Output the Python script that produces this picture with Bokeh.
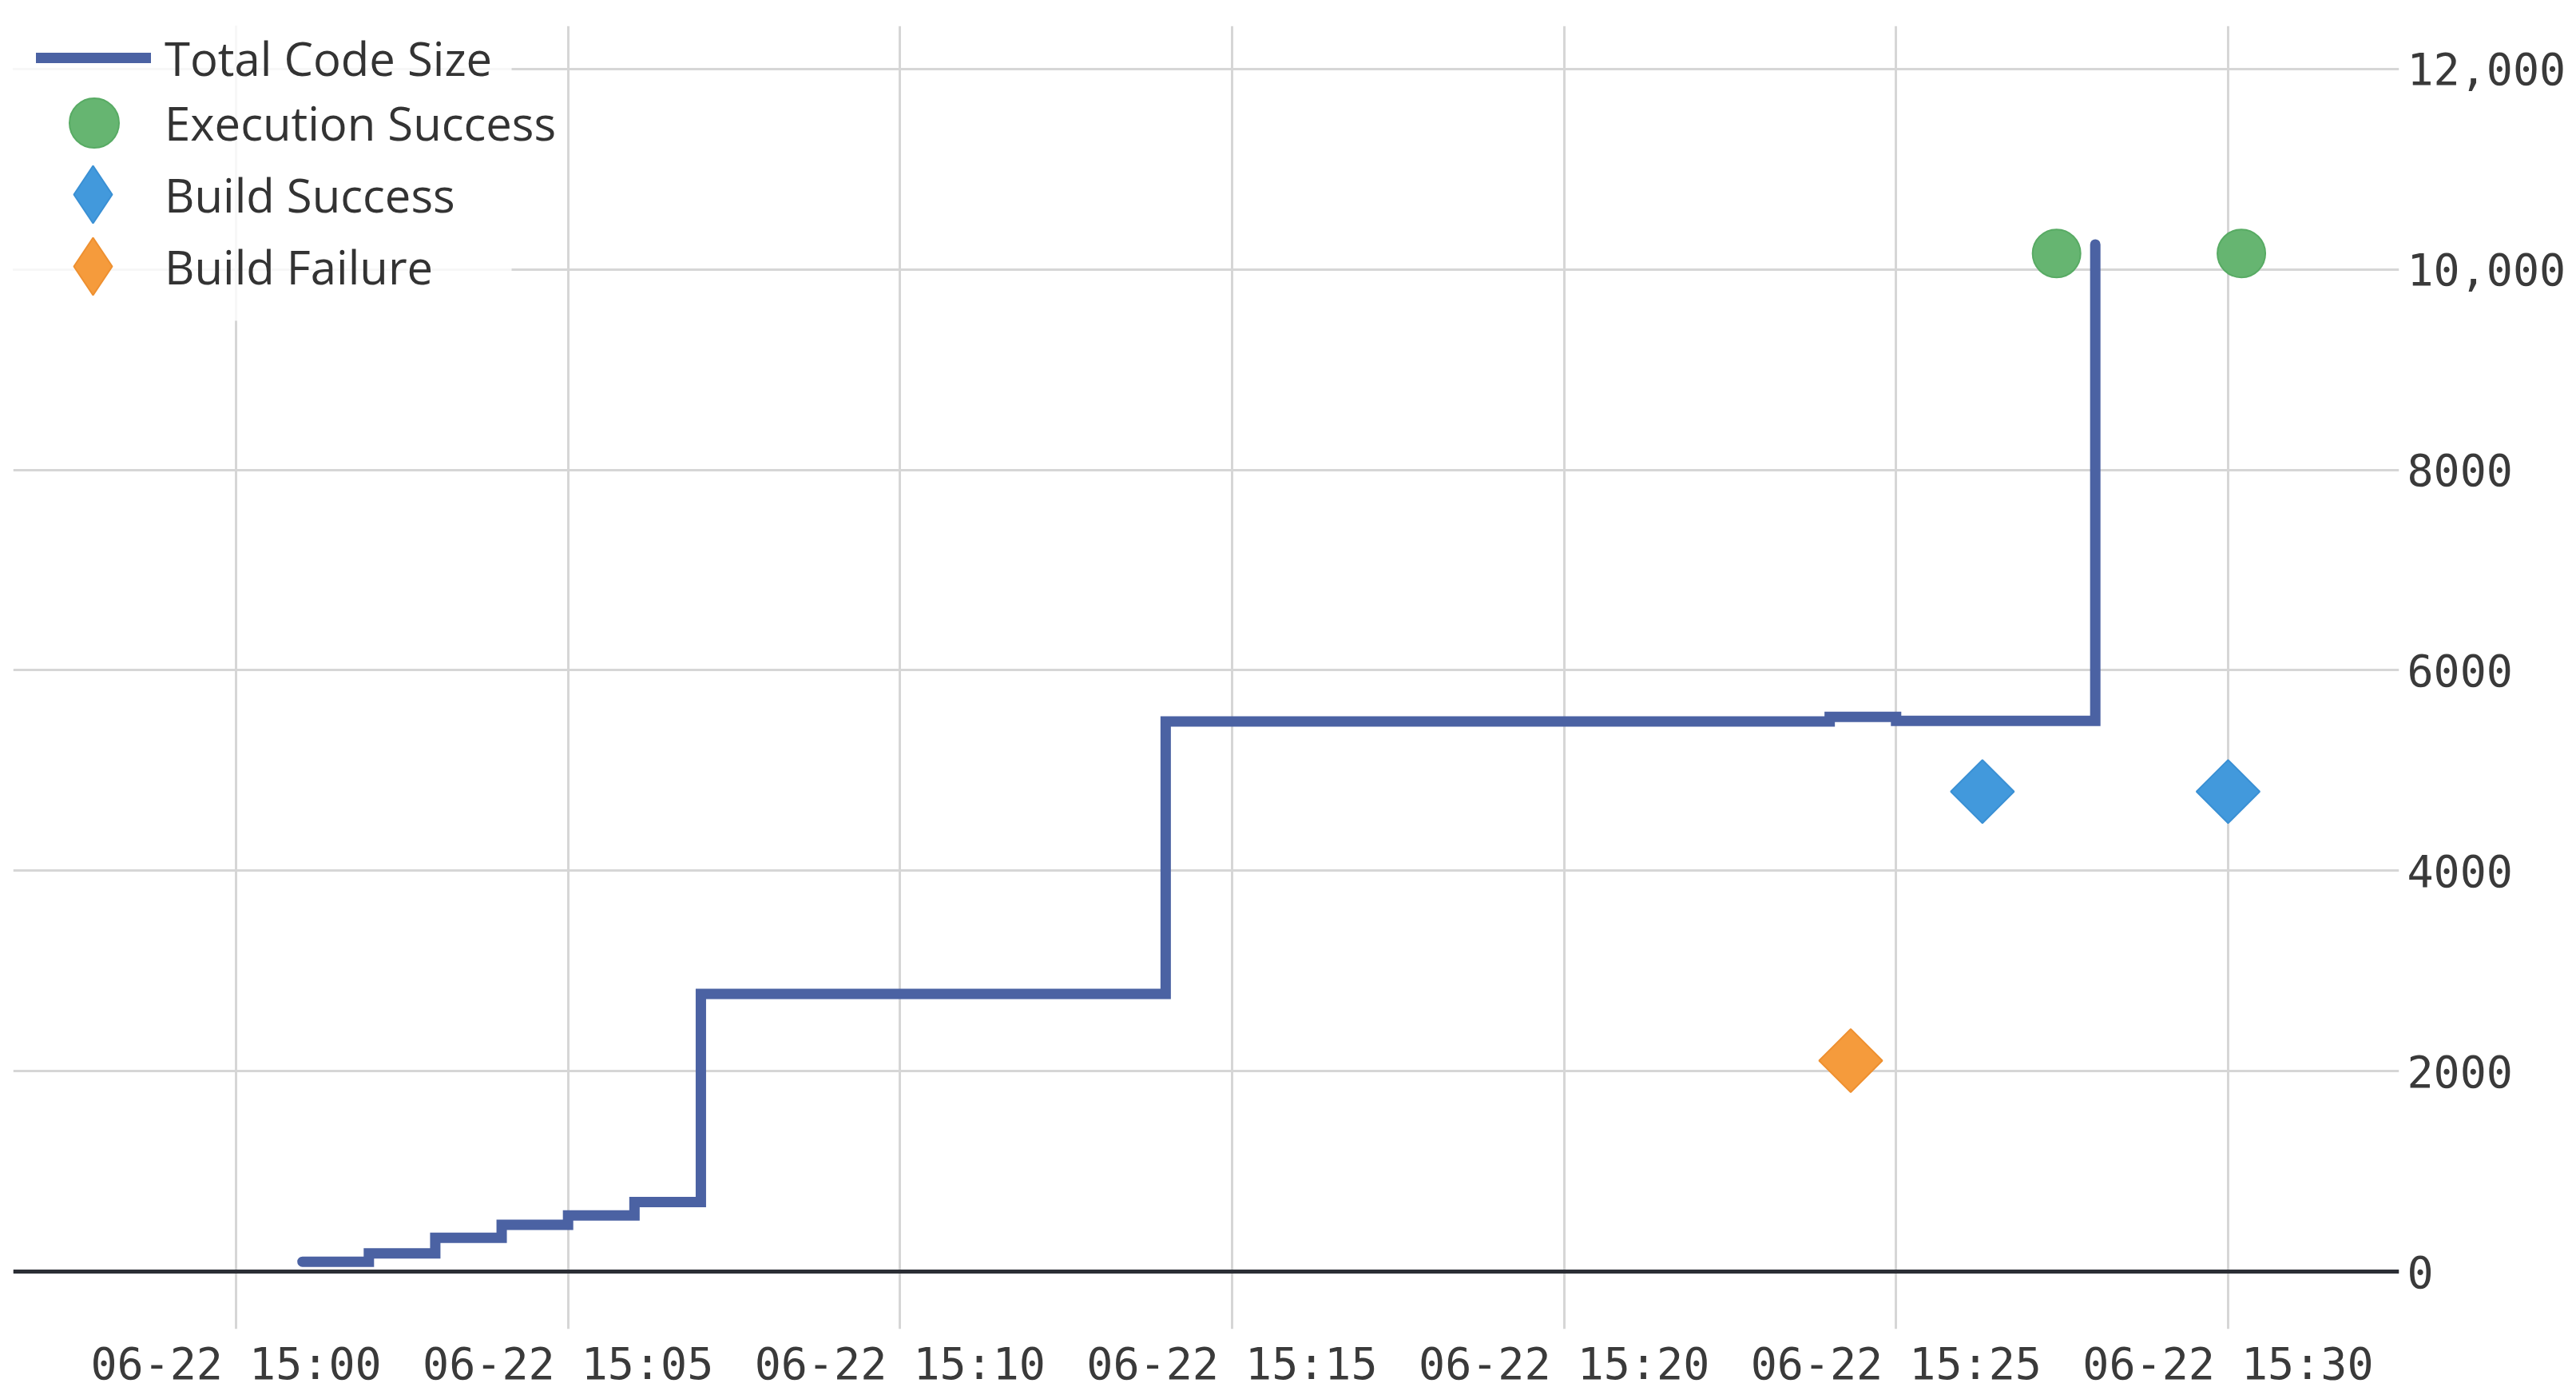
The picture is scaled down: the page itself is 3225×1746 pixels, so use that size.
import math
import pandas as pd
from bokeh.plotting import figure
from bokeh.models import (FixedTicker, DatetimeTickFormatter, Span, Legend,
                          LegendItem, Range1d, ColumnDataSource, BoxAnnotation)
from bokeh.embed import file_html
from bokeh.resources import INLINE

DAY = "2024-06-22"

# Total code size (step line, value held until the next change)
code_times = ["15:01", "15:02", "15:03", "15:04", "15:05", "15:06", "15:07",
              "15:14", "15:24", "15:25", "15:28"]
code_size = [98, 181, 337, 466, 560, 694, 2770, 5490, 5535, 5495, 10250]

# Execution success events
exec_times = ["15:27:25", "15:30:12"]
exec_vals = [10160, 10160]

# Build success events
build_ok_times = ["15:26:18", "15:30:00"]
build_ok_vals = [4790, 4790]

# Build failure events
build_fail_times = ["15:24:19"]
build_fail_vals = [2105]

# Axes
x_tick_times = ["15:00", "15:05", "15:10", "15:15", "15:20", "15:25", "15:30"]
x_view = ["14:56:38.6", "15:32:34.5"]
y_ticks = [0, 2000, 4000, 6000, 8000, 10000, 12000]
y_tick_labels = ["0", "2000", "4000", "6000", "8000", "10,000", "12,000"]
y_view = [-574, 12430]

# legend backdrop extent (data space)
legend_box_right = "15:04:09"
legend_box_bottom = 9488

LINE_C = "#4b62a3"
GREEN, GREEN_E = "#66b571", "#58ab64"
BLUE, BLUE_E = "#4299dc", "#3a90d4"
ORANGE, ORANGE_E = "#f59b3c", "#ee9030"
GRID_C = "#d6d6d6"


def ts(t):
    return pd.Timestamp(f"{DAY} {t}")


def ms(t):
    return ts(t).value / 1e6


p = figure(x_axis_type="datetime", y_axis_location="right",
           frame_width=2987, frame_height=1631,
           min_border_left=16, min_border_top=32, min_border_right=5,
           min_border_bottom=2,
           x_range=Range1d(ms(x_view[0]), ms(x_view[1])),
           y_range=Range1d(y_view[0], y_view[1]),
           output_backend="svg", toolbar_location=None,
           background_fill_color="white", border_fill_color="white",
           outline_line_color=None)

# axes
p.xaxis.ticker = FixedTicker(ticks=[ms(t) for t in x_tick_times])
fmt = "%m-%d %H:%M"
p.xaxis.formatter = DatetimeTickFormatter(seconds=fmt, minsec=fmt, minutes=fmt,
                                          hourmin=fmt, hours=fmt, days=fmt)
for ax in (p.xaxis, p.yaxis):
    ax.axis_line_color = None
    ax.major_tick_line_color = None
    ax.minor_tick_line_color = None
    ax.major_tick_out = 0
    ax.major_tick_in = 0
    ax.major_label_text_font = "DejaVu Sans Mono"
    ax.major_label_text_font_size = "55px"
    ax.major_label_text_color = "#3a3a3a"
p.xaxis.major_label_standoff = 11
p.yaxis.major_label_standoff = 10
p.yaxis.ticker = FixedTicker(ticks=y_ticks)
p.yaxis.major_label_overrides = dict(zip(y_ticks, y_tick_labels))

p.xgrid.grid_line_color = GRID_C
p.xgrid.grid_line_width = 3
p.ygrid.grid_line_color = GRID_C
p.ygrid.grid_line_width = 3

# zero baseline
p.add_layout(Span(location=0, dimension="width", line_color="#2b2e35",
                  line_width=5))

src_ok = ColumnDataSource(dict(x=[ts(t) for t in build_ok_times], y=build_ok_vals))
src_fail = ColumnDataSource(dict(x=[ts(t) for t in build_fail_times], y=build_fail_vals))

r_code = p.step(x=[ts(t) for t in code_times], y=code_size, mode="after",
                line_color=LINE_C, line_width=13, line_cap="round",
                line_join="miter")
r_exec = p.scatter(x=[ts(t) for t in exec_times], y=exec_vals, marker="circle",
                   size=60, fill_color=GREEN, line_color=GREEN_E, line_width=2)
r_ok = p.scatter(x="x", y="y", source=src_ok, marker="square",
                 angle=math.pi / 4, size=56,
                 fill_color=BLUE, line_color=BLUE_E, line_width=2)
r_fail = p.scatter(x="x", y="y", source=src_fail, marker="square",
                   angle=math.pi / 4, size=56,
                   fill_color=ORANGE, line_color=ORANGE_E, line_width=2)

# legend key glyphs (diamond shape) sharing the same data, not drawn on the plot
k_ok = p.scatter(x="x", y="y", source=src_ok, marker="diamond",
                 fill_color=BLUE, line_color=BLUE_E, line_width=2, visible=False)
k_fail = p.scatter(x="x", y="y", source=src_fail, marker="diamond",
                   fill_color=ORANGE, line_color=ORANGE_E, line_width=2,
                   visible=False)

# translucent backdrop behind the legend
p.add_layout(BoxAnnotation(left=ms(x_view[0]), right=ms(legend_box_right),
                           top=y_view[1], bottom=legend_box_bottom,
                           fill_color="white", fill_alpha=0.8,
                           line_color=None, level="annotation"))

common = dict(margin=0, padding=0, spacing=0,
              label_text_font="Open Sans", label_text_font_size="58px",
              label_text_color="#333333",
              background_fill_alpha=0, border_line_color=None,
              inactive_fill_alpha=0)

legends = [
    Legend(items=[LegendItem(label="Total Code Size", renderers=[r_code])],
           location=(29, 1551), glyph_width=144, glyph_height=80,
           label_standoff=17, **common),
    Legend(items=[LegendItem(label="Execution Success", renderers=[r_exec])],
           location=(24, 1432), glyph_width=155, glyph_height=155,
           label_standoff=11, **common),
    Legend(items=[LegendItem(label="Build Success", renderers=[k_ok])],
           location=(10, 1320), glyph_width=180, glyph_height=200,
           label_standoff=0, **common),
    Legend(items=[LegendItem(label="Build Failure", renderers=[k_fail])],
           location=(10, 1230), glyph_width=180, glyph_height=200,
           label_standoff=0, **common),
]
for lg in legends:
    p.add_layout(lg, "center")

open("out.html", "w").write(file_html(p, INLINE))
